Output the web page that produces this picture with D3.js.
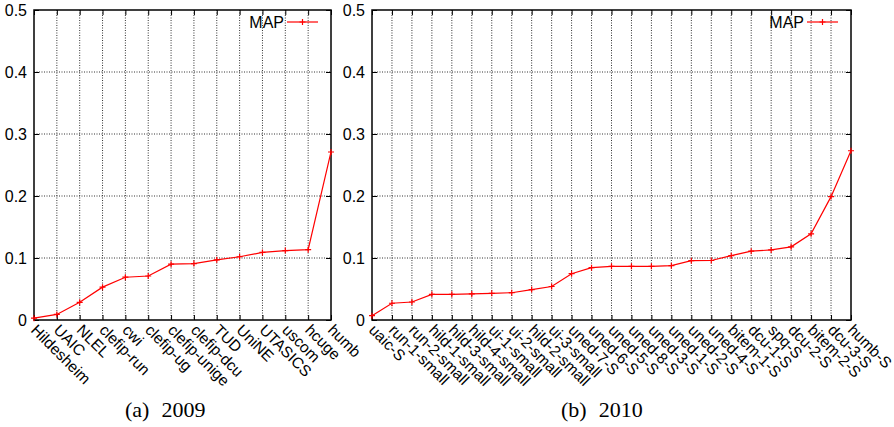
<!DOCTYPE html>
<html>
<head>
<meta charset="utf-8">
<script src="https://cdn.jsdelivr.net/npm/d3@7/dist/d3.min.js"></script>
<style>
  html, body { margin: 0; padding: 0; background: #fff; }
  svg { display: block; }
</style>
</head>
<body>
<svg id="chart" width="894" height="427"></svg>
<script>
// MAP per participating run, sorted ascending, for the two campaigns
const runs2009 = ["Hildesheim", "UAIC", "NLEL", "clefip-run", "cwi", "clefip-ug",
  "clefip-unige", "clefip-dcu", "TUD", "UniNE", "UTASICS", "uscom", "hcuge", "humb"];
const map2009 = [0.003, 0.009, 0.0285, 0.053, 0.069, 0.071, 0.090, 0.091,
  0.097, 0.102, 0.109, 0.112, 0.1135, 0.271];

const runs2010 = ["uaic-S", "run-1-small", "run-2-small", "hild-1-small", "hild-3-small",
  "hild-4-small", "ui-1-small", "ui-2-small", "hild-2-small", "ui-3-small", "uned-7-S",
  "uned-6-S", "uned-5-S", "uned-8-S", "uned-3-S", "uned-1-S", "uned-2-S", "uned-4-S",
  "bitem-1-S", "dcu-1-S", "spq-S", "dcu-2-S", "bitem-2-S", "dcu-3-S", "humb-S"];
const map2010 = [0.007, 0.027, 0.029, 0.0414, 0.0414, 0.042, 0.043, 0.044, 0.049,
  0.054, 0.0747, 0.0844, 0.0865, 0.0865, 0.0865, 0.0876, 0.0957, 0.096, 0.1037,
  0.111, 0.113, 0.118, 0.139, 0.199, 0.273];

const yTicks = [0, 0.1, 0.2, 0.3, 0.4, 0.5];
const yTickLabels = ["0", "0.1", "0.2", "0.3", "0.4", "0.5"];
const seriesName = "MAP";
const captions = [["(a)", "2009"], ["(b)", "2010"]];

const svg = d3.select("#chart");
const sansFont = "'Liberation Sans', Arial, Helvetica, sans-serif";
const serifFont = "'Liberation Serif', 'Times New Roman', serif";

function drawPanel(cats, vals, left, right, caption, capX) {
  const top = 10, bottom = 320;
  const x = d3.scalePoint().domain(cats).range([left, right]);
  const y = d3.scaleLinear().domain([0, 0.5]).range([bottom, top]);
  const g = svg.append("g");

  // dotted grid
  const grid = g.append("g").attr("stroke", "#333").attr("stroke-width", 1)
    .attr("stroke-dasharray", "1,1.5").attr("fill", "none");
  grid.selectAll("line.v").data(cats.slice(1, -1)).join("line")
    .attr("x1", d => x(d)).attr("x2", d => x(d))
    .attr("y1", top).attr("y2", bottom);
  grid.selectAll("line.h").data(yTicks.slice(1, -1)).join("line")
    .attr("x1", left).attr("x2", right)
    .attr("y1", d => y(d)).attr("y2", d => y(d));

  // y axis (left labels) with inward ticks on both sides
  const yAxis = d3.axisLeft(y).tickValues(yTicks)
    .tickFormat((d, i) => yTickLabels[i]).tickSize(-5).tickPadding(8);
  const ya = g.append("g").attr("transform", `translate(${left},0)`).call(yAxis);
  ya.select(".domain").remove();
  ya.selectAll("line").attr("stroke", "#000");
  ya.selectAll("text").attr("font-family", sansFont).attr("font-size", 16)
    .attr("fill", "#000").attr("dx", 1);
  const yr = g.append("g").attr("transform", `translate(${right},0)`)
    .call(d3.axisRight(y).tickValues(yTicks).tickSize(-5).tickFormat(""));
  yr.select(".domain").remove();
  yr.selectAll("line").attr("stroke", "#000");

  // x ticks bottom and top (inward)
  const xa = g.append("g").attr("transform", `translate(0,${bottom})`)
    .call(d3.axisBottom(x).tickSize(-5).tickFormat(""));
  xa.select(".domain").remove();
  xa.selectAll("line").attr("stroke", "#000");
  const xt = g.append("g").attr("transform", `translate(0,${top})`)
    .call(d3.axisTop(x).tickSize(-5).tickFormat(""));
  xt.select(".domain").remove();
  xt.selectAll("line").attr("stroke", "#000");

  // rotated category labels
  g.append("g").selectAll("text").data(cats).join("text")
    .attr("transform", d => `translate(${x(d) - 4},${bottom + 11}) rotate(45)`)
    .attr("font-family", sansFont).attr("font-size", 15.5).attr("fill", "#000")
    .text(d => d);

  // frame
  g.append("rect").attr("x", left).attr("y", top)
    .attr("width", right - left).attr("height", bottom - top)
    .attr("fill", "none").attr("stroke", "#000").attr("stroke-width", 1.5);

  // series line and markers
  const pts = cats.map((c, i) => [x(c), y(vals[i])]);
  g.append("path").attr("d", d3.line()(pts))
    .attr("fill", "none").attr("stroke", "#ff0000").attr("stroke-width", 1.2);
  g.append("g").attr("stroke", "#ff0000").attr("stroke-width", 1.2)
    .selectAll("path").data(pts).join("path")
    .attr("d", d => `M${d[0] - 3},${d[1]}H${d[0] + 3}M${d[0]},${d[1] - 3}V${d[1] + 3}`);

  // legend
  const lx1 = right - 44, lx2 = right - 13, ly = 22;
  g.append("line").attr("x1", lx1).attr("x2", lx2).attr("y1", ly).attr("y2", ly)
    .attr("stroke", "#ff0000").attr("stroke-width", 1.2);
  const mx = (lx1 + lx2) / 2;
  g.append("path").attr("d", `M${mx - 3},${ly}H${mx + 3}M${mx},${ly - 3}V${ly + 3}`)
    .attr("stroke", "#ff0000").attr("stroke-width", 1.2);
  g.append("text").attr("x", lx1 - 3).attr("y", 28).attr("text-anchor", "end")
    .attr("font-family", sansFont).attr("font-size", 16).attr("fill", "#000")
    .text(seriesName);

  // caption
  const cap = g.append("text").attr("x", capX).attr("y", 417)
    .attr("font-family", serifFont).attr("font-size", 22).attr("fill", "#000");
  cap.append("tspan").text(caption[0]);
  cap.append("tspan").attr("dx", 12).text(caption[1]);
}

drawPanel(runs2009, map2009, 34, 331, captions[0], 125);
drawPanel(runs2010, map2010, 372, 851, captions[1], 561);
</script>
</body>
</html>
